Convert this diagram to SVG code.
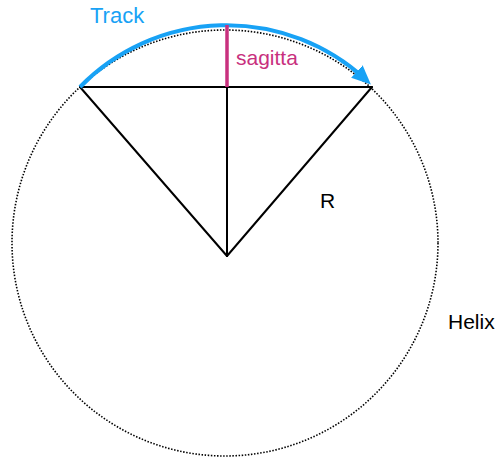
<svg xmlns="http://www.w3.org/2000/svg" width="503" height="459" viewBox="0 0 503 459">
<style>
.ln{stroke:#000;stroke-width:2;fill:none;stroke-linecap:round}
.lbl{font-family:"Liberation Sans",Arial,sans-serif}
</style>
<defs>
<marker id="ah" markerUnits="userSpaceOnUse" markerWidth="22" markerHeight="20" refX="11" refY="8.5" orient="auto">
<path d="M0,0 L19,8.5 L0,17 z" fill="#18A2F5"/>
</marker>
</defs>
<rect width="503" height="459" fill="#fff"/>
<g id="helix">
<circle cx="225" cy="243" r="213" fill="none" stroke="#000" stroke-width="1.6" stroke-dasharray="1.5 1.6"/>
<text class="lbl" x="448" y="329" font-size="21">Helix</text>
</g>
<g id="connectors">
<line class="ln" x1="80" y1="87" x2="372" y2="87"/>
<line class="ln" x1="80" y1="87" x2="227" y2="256"/>
<line class="ln" x1="372" y1="87" x2="227" y2="256"/>
<line class="ln" x1="227" y1="87" x2="227" y2="256"/>
</g>
<g id="track">
<path d="M80,87 A205,205 0 0 1 365,79" fill="none" stroke="#18A2F5" stroke-width="4" marker-end="url(#ah)"/>
<text class="lbl" x="90" y="23" font-size="22" fill="#18A2F5">Track</text>
</g>
<g id="sagitta">
<line x1="227" y1="25" x2="227" y2="87" stroke="#C8307E" stroke-width="3.5"/>
<text class="lbl" x="236" y="65" font-size="21" fill="#C8307E">sagitta</text>
</g>
<g id="r">
<text class="lbl" x="320" y="208" font-size="21">R</text>
</g>
</svg>
